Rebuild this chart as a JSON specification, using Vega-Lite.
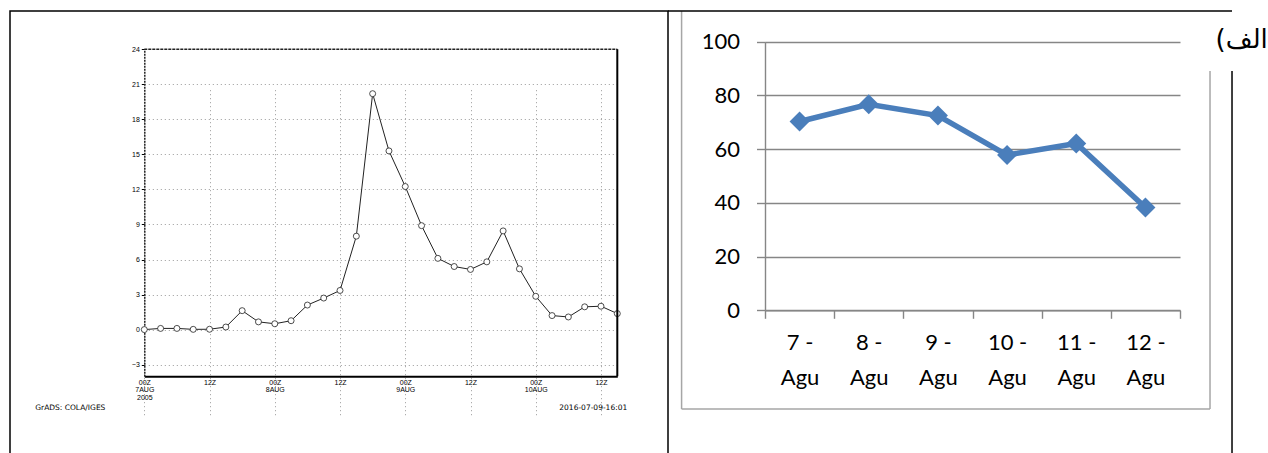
{
  "$schema": "https://vega.github.io/schema/vega-lite/v6.json",
  "padding": {"left": 9, "top": 10, "right": 0, "bottom": 0},
  "spacing": 0,
  "bounds": "flush",
  "config": {"view": {"stroke": "#000", "strokeWidth": 1.5}, "font": "Liberation Sans"},
  "datasets": {
    "grads": [
      {"hour": 0, "val": 0}, {"hour": 3, "val": 0.1}, {"hour": 6, "val": 0.1}, {"hour": 9, "val": 0.02},
      {"hour": 12, "val": 0.03}, {"hour": 15, "val": 0.22}, {"hour": 18, "val": 1.62}, {"hour": 21, "val": 0.66},
      {"hour": 24, "val": 0.5}, {"hour": 27, "val": 0.76}, {"hour": 30, "val": 2.1}, {"hour": 33, "val": 2.7},
      {"hour": 36, "val": 3.35}, {"hour": 39, "val": 8.0}, {"hour": 42, "val": 20.2}, {"hour": 45, "val": 15.3},
      {"hour": 48, "val": 12.25}, {"hour": 51, "val": 8.9}, {"hour": 54, "val": 6.1}, {"hour": 57, "val": 5.4},
      {"hour": 60, "val": 5.15}, {"hour": 63, "val": 5.8}, {"hour": 66, "val": 8.45}, {"hour": 69, "val": 5.2},
      {"hour": 72, "val": 2.85}, {"hour": 75, "val": 1.2}, {"hour": 78, "val": 1.08}, {"hour": 81, "val": 1.95},
      {"hour": 84, "val": 2.0}, {"hour": 87, "val": 1.37}
    ],
    "excel": [
      {"day": 7, "pct": 70.3}, {"day": 8, "pct": 76.7}, {"day": 9, "pct": 72.5},
      {"day": 10, "pct": 57.8}, {"day": 11, "pct": 62.1}, {"day": 12, "pct": 38.3}
    ],
    "one": [{"k": 1}]
  },
  "hconcat": [
    {
      "width": 658,
      "height": 444,
      "layer": [
        {
          "data": {"name": "grads"},
          "mark": {"type": "line", "color": "#222", "strokeWidth": 1},
          "encoding": {
            "x": {
              "field": "hour", "type": "quantitative",
              "scale": {"domain": [0, 87], "range": [134.3, 607.3], "nice": false, "zero": false},
              "axis": {
                "orient": "bottom", "offset": -78.7, "title": null,
                "values": [0, 12, 24, 36, 48, 60, 72, 84],
                "grid": true, "gridColor": "#9a9a9a", "gridDash": [1, 3], "gridWidth": 1,
                "domainColor": "#000", "domainWidth": 2, "ticks": false,
                "labelExpr": "datum.value == 0 ? ['00Z', '7AUG', '2005'] : (datum.value % 24 == 0 ? ['00Z', (7 + datum.value / 24) + 'AUG'] : '12Z')",
                "labelFont": "Liberation Sans", "labelFontSize": 7, "labelLineHeight": 7.4, "labelColor": "#000",
                "labelPadding": 2, "labelFlush": false, "labelOverlap": false
              }
            },
            "y": {
              "field": "val", "type": "quantitative",
              "scale": {"domain": [-4, 24], "range": [365.3, 38.3], "nice": false, "zero": false},
              "axis": {
                "orient": "left", "offset": -134.3, "title": null,
                "values": [-3, 0, 3, 6, 9, 12, 15, 18, 21, 24],
                "grid": true, "gridColor": "#9a9a9a", "gridDash": [1, 3], "gridWidth": 1,
                "domainColor": "#222", "domainDash": [2, 1], "domainWidth": 1.5,
                "tickSize": 3, "tickColor": "#000",
                "labelFont": "Liberation Sans", "labelFontSize": 7, "labelColor": "#000", "labelPadding": 2
              }
            }
          }
        },
        {
          "data": {"name": "grads"},
          "mark": {"type": "point", "shape": "circle", "filled": true, "fill": "#fff", "stroke": "#222", "strokeWidth": 0.8, "size": 36, "opacity": 1},
          "encoding": {
            "x": {"field": "hour", "type": "quantitative"},
            "y": {"field": "val", "type": "quantitative"}
          }
        },
        {
          "data": {"name": "one"},
          "mark": {"type": "rule", "color": "#222", "strokeWidth": 1.4, "strokeDash": [3, 1]},
          "encoding": {
            "x": {"datum": 0, "type": "quantitative"},
            "x2": {"datum": 87},
            "y": {"datum": 24, "type": "quantitative"}
          }
        },
        {
          "data": {"name": "one"},
          "mark": {"type": "rule", "color": "#000", "strokeWidth": 2},
          "encoding": {
            "x": {"datum": 87, "type": "quantitative"},
            "y": {"datum": -4, "type": "quantitative"},
            "y2": {"datum": 24}
          }
        },
        {
          "data": {"name": "one"},
          "mark": {"type": "text", "align": "left", "baseline": "middle", "fontSize": 7.5, "font": "DejaVu Sans", "color": "#000"},
          "encoding": {
            "x": {"datum": -20.06, "type": "quantitative"},
            "y": {"datum": -6.71, "type": "quantitative"},
            "text": {"value": "GrADS: COLA/IGES"}
          }
        },
        {
          "data": {"name": "one"},
          "mark": {"type": "text", "align": "right", "baseline": "middle", "fontSize": 7.5, "font": "DejaVu Sans", "color": "#000"},
          "encoding": {
            "x": {"datum": 88.83, "type": "quantitative"},
            "y": {"datum": -6.71, "type": "quantitative"},
            "text": {"value": "2016-07-09-16:01"}
          }
        }
      ]
    },
    {
      "width": 564,
      "height": 444,
      "view": {"stroke": null},
      "resolve": {"axis": {"x": "independent"}},
      "layer": [
        {
          "data": {"name": "excel"},
          "mark": {"type": "line", "color": "#4A7EBB", "strokeWidth": 5.5},
          "encoding": {
            "x": {
              "field": "day", "type": "quantitative",
              "scale": {"domain": [6.5, 12.5], "range": [97, 512], "nice": false, "zero": false},
              "axis": {
                "orient": "bottom", "offset": -144.7, "title": null,
                "values": [6.5, 7.5, 8.5, 9.5, 10.5, 11.5, 12.5],
                "labels": false, "grid": false,
                "tickSize": 8, "tickColor": "#868686", "tickWidth": 1.4,
                "domainColor": "#868686", "domainWidth": 1.4
              }
            },
            "y": {
              "field": "pct", "type": "quantitative",
              "scale": {"domain": [0, 100], "range": [299.3, 30.7], "nice": false, "zero": false},
              "axis": {
                "orient": "left", "offset": -97, "title": null,
                "values": [0, 20, 40, 60, 80, 100],
                "grid": true, "gridColor": "#868686", "gridWidth": 1.4,
                "domainColor": "#868686", "domainWidth": 1.4,
                "tickColor": "#868686", "tickSize": 8.5, "tickWidth": 1.4,
                "labelFont": "Lato", "labelFontSize": 22, "labelColor": "#000", "labelPadding": 17
              }
            }
          }
        },
        {
          "data": {"name": "excel"},
          "mark": {"type": "point", "shape": "diamond", "filled": true, "color": "#4A7EBB", "size": 400, "opacity": 1},
          "encoding": {
            "x": {
              "field": "day", "type": "quantitative",
              "axis": {
                "orient": "bottom", "offset": -144.7, "title": null,
                "values": [7, 8, 9, 10, 11, 12],
                "labelExpr": "[datum.value + ' -', 'Agu']",
                "ticks": false, "domain": false, "grid": false,
                "labelFont": "Lato", "labelFontSize": 22, "labelLineHeight": 35, "labelColor": "#000",
                "labelPadding": 22, "labelFlush": false, "labelOverlap": false
              }
            },
            "y": {"field": "pct", "type": "quantitative"}
          }
        },
        {
          "data": {"name": "one"},
          "mark": {"type": "rule", "color": "#a6a6a6", "strokeWidth": 1.5},
          "encoding": {
            "x": {"datum": 5.294, "type": "quantitative", "axis": null},
            "y": {"datum": -36.7, "type": "quantitative"},
            "y2": {"datum": 111.4}
          }
        },
        {
          "data": {"name": "one"},
          "mark": {"type": "rule", "color": "#a6a6a6", "strokeWidth": 1.5},
          "encoding": {
            "x": {"datum": 12.934, "type": "quantitative", "axis": null},
            "y": {"datum": -36.7, "type": "quantitative"},
            "y2": {"datum": 89.1}
          }
        },
        {
          "data": {"name": "one"},
          "mark": {"type": "rule", "color": "#a6a6a6", "strokeWidth": 1.5},
          "encoding": {
            "x": {"datum": 5.294, "type": "quantitative", "axis": null},
            "x2": {"datum": 12.934},
            "y": {"datum": -36.7, "type": "quantitative"}
          }
        },
        {
          "data": {"name": "one"},
          "mark": {"type": "rule", "color": "#000", "strokeWidth": 1.5},
          "encoding": {
            "x": {"datum": 5.0976, "type": "quantitative", "axis": null},
            "x2": {"datum": 13.252},
            "y": {"datum": 111.43, "type": "quantitative"}
          }
        },
        {
          "data": {"name": "one"},
          "mark": {"type": "rule", "color": "#000", "strokeWidth": 1.5},
          "encoding": {
            "x": {"datum": 13.252, "type": "quantitative", "axis": null},
            "y": {"datum": -54, "type": "quantitative"},
            "y2": {"datum": 89.1}
          }
        },
        {
          "data": {"name": "one"},
          "mark": {"type": "text", "align": "right", "baseline": "middle", "fontSize": 26, "font": "DejaVu Sans", "color": "#000"},
          "encoding": {
            "x": {"datum": 13.77, "type": "quantitative", "axis": null},
            "y": {"datum": 100.8, "type": "quantitative"},
            "text": {"value": "(الف"}
          }
        }
      ]
    }
  ]
}
